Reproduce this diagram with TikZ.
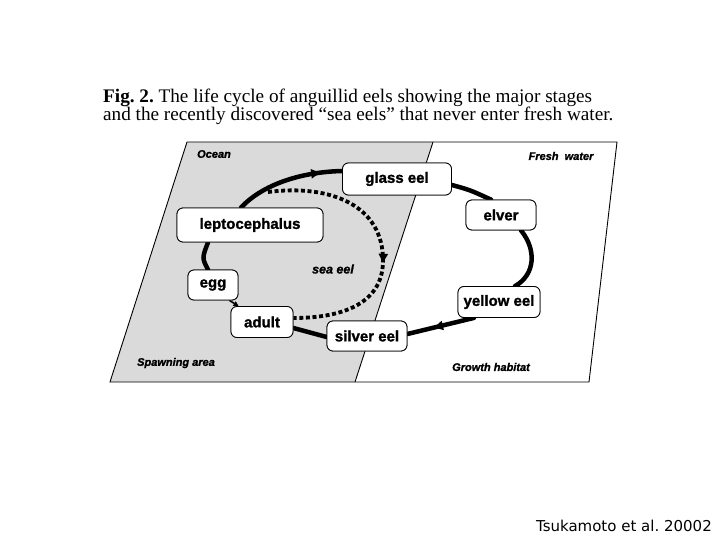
\documentclass[tikz,border=0pt]{standalone}
\usepackage{fontspec}
\setmainfont{Liberation Serif}
\setsansfont{Liberation Sans}[BoldFeatures={FakeBold=1.4},BoldItalicFeatures={FakeBold=1.4}]
\newfontfamily\tsfont{DejaVu Sans}
\usetikzlibrary{arrows.meta,decorations.markings,calc}
\definecolor{oceangray}{RGB}{218,218,218}
\frenchspacing
\tikzset{
  stagebox/.style={draw, line width=0.8pt, rounded corners=6pt, fill=white, inner sep=0pt,
    font=\sffamily\bfseries\fontsize{15}{15}\selectfont},
  arealabel/.style={font=\sffamily\bfseries\itshape\fontsize{11}{11}\selectfont, inner sep=0pt},
  thickline/.style={line width=4.5pt, line cap=round},
  midarrow/.style={postaction={decorate, decoration={markings,
      mark=at position #1 with {\arrow[solid]{Triangle[length=9pt,width=9pt]}}}}},
  dashline/.style={line width=3.8pt, dash pattern=on 4pt off 2.6pt},
}
\begin{document}
\begin{tikzpicture}[x=1pt,y=-1pt]
\useasboundingbox (0,0) rectangle (720,540);
% caption
\node[anchor=base west, inner sep=0pt, font=\fontsize{19.2}{19.2}\selectfont] (cap1) at (103,103)
  {\textbf{Fig. 2.} The life cycle of anguillid eels showing the major stages};
\node[anchor=base west, inner sep=0pt, font=\fontsize{19.2}{19.2}\selectfont] (cap2) at (103,121)
  {and the recently discovered “sea eels” that never enter fresh water.};
% frame
\fill[oceangray] (187,142) -- (433,142) -- (355,382) -- (110,382) -- cycle;
\draw[line width=0.9pt] (187,142) -- (617,142) -- (589,382) -- (110,382) -- cycle;
\draw[line width=0.9pt] (433,142) -- (355,382);
% area labels
\node[arealabel] (ocean) at (214,154) {Ocean};
\node[arealabel] (fresh) at (561,156) {Fresh\ \ water};
\node[arealabel] (spawn) at (176,363) {Spawning area};
\node[arealabel] (growth) at (491,367) {Growth habitat};
% stages
\node[stagebox, minimum width=109pt, minimum height=32pt] (glass) at (397,179) {glass eel};
\node[stagebox, minimum width=146pt, minimum height=34pt] (lepto) at (250,225) {leptocephalus};
\node[stagebox, minimum width=50pt, minimum height=30pt] (egg) at (213,285) {egg};
\node[stagebox, minimum width=62pt, minimum height=31pt] (adult) at (262,322) {adult};
\node[stagebox, minimum width=80pt, minimum height=30pt] (silver) at (367,336) {silver eel};
\node[stagebox, minimum width=70pt, minimum height=30pt] (elver) at (501,215) {elver};
\node[stagebox, minimum width=82pt, minimum height=31pt] (yellow) at (499,302) {yellow eel};
\node[font=\sffamily\bfseries\itshape\fontsize{12.5}{12.5}\selectfont, inner sep=0pt] (seaeel) at (333,269) {sea eel};
% connectors
\coordinate (d0) at (268,192);
\draw[dashline, midarrow=0.57] (d0) .. controls (330,184) and (384,205) .. (383,262)
  .. controls (382,305) and (340,318) .. ($(adult.east)+(0,-4)$);
\draw[thickline, midarrow=0.8] ($(lepto.north)+(-9,0)$) .. controls (262,185) and (300,172) .. ($(glass.west)+(0,-8)$);
\draw[thickline] ($(glass.east)+(0,6)$) .. controls (470,190) .. ($(elver.north)+(-10,0)$);
\draw[thickline] ($(elver.south)+(20,0)$) .. controls (537,250) and (535,275) .. ($(yellow.north)+(16,0)$);
\draw[thickline, midarrow=0.6] ($(yellow.south)+(-25,0)$) -- ($(silver.east)+(0,-2)$);
\draw[thickline] ($(silver.west)+(0,1)$) -- ($(adult.east)+(0,6)$);
\draw[thickline] ($(egg.north)+(-5,0)$) .. controls (202,258) .. ($(lepto.south)+(-42,0)$);
\draw[line width=1.6pt, -{Triangle[length=5pt,width=5pt]}] ($(egg.south east)+(-9,0)$) -- ($(adult.north west)+(8,0)$);
% redraw boxes on top of connector ends
\node[stagebox, minimum width=109pt, minimum height=32pt] at (glass) {glass eel};
\node[stagebox, minimum width=146pt, minimum height=34pt] at (lepto) {leptocephalus};
\node[stagebox, minimum width=50pt, minimum height=30pt] at (egg) {egg};
\node[stagebox, minimum width=62pt, minimum height=31pt] at (adult) {adult};
\node[stagebox, minimum width=80pt, minimum height=30pt] at (silver) {silver eel};
\node[stagebox, minimum width=70pt, minimum height=30pt] at (elver) {elver};
\node[stagebox, minimum width=82pt, minimum height=31pt] at (yellow) {yellow eel};
% credit
\node[anchor=base east, inner sep=0pt, font=\tsfont\fontsize{15}{15}\selectfont] (credit) at (712,531) {Tsukamoto et al. 20002};
\end{tikzpicture}
\end{document}
